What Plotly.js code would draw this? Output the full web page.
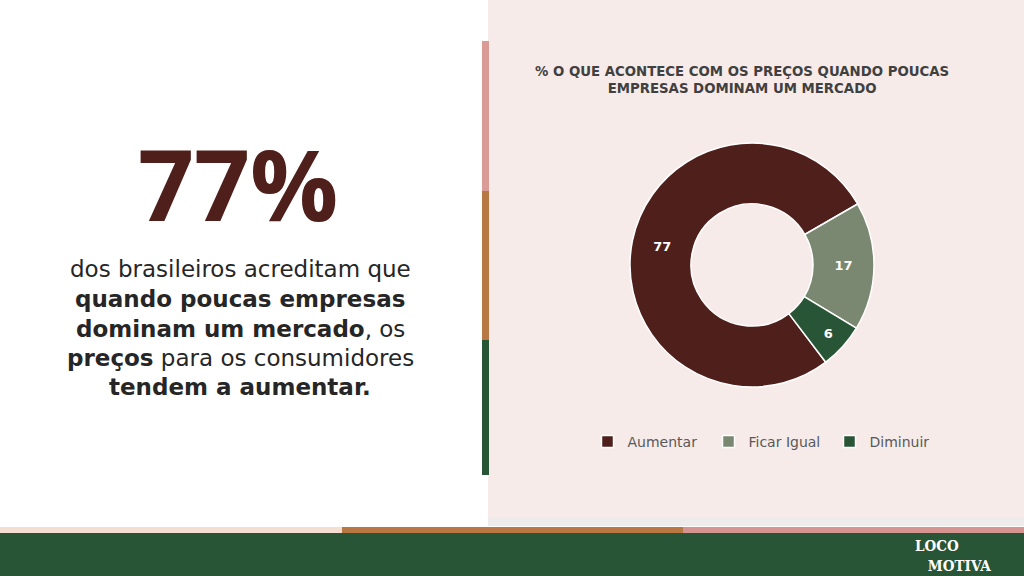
<!DOCTYPE html>
<html>
<head>
<meta charset="utf-8">
<script src="https://cdn.plot.ly/plotly-3.0.1.min.js"></script>
<style>
html,body{margin:0;padding:0;background:#ffffff;}
#chart{width:1024px;height:576px;}
</style>
</head>
<body>
<div id="chart"></div>
<script>
// ---- data ----
const categories = ["Aumentar", "Ficar Igual", "Diminuir"];
const values = [77, 17, 6];
const sliceColors = ["#4F201B", "#7A8871", "#285535"];
const chartTitle = "% O QUE ACONTECE COM OS PREÇOS QUANDO POUCAS<br>EMPRESAS DOMINAM UM MERCADO";
const headline = "77%";
const bodyLines = [
  "dos brasileiros acreditam que",
  "<b>quando poucas empresas</b>",
  "<b>dominam um mercado</b>, os",
  "<b>preços</b> para os consumidores",
  "<b>tendem a aumentar.</b>"
];
const logoText = "<b>LOCO</b><br>&nbsp;&nbsp;&nbsp;<b>MOTIVA</b>";

const W = 1024, H = 576;
const px = x => x / W;
const py = y => 1 - y / H;
function rect(x0, y0, x1, y1, color) {
  return {type: "rect", xref: "paper", yref: "paper", x0: px(x0), x1: px(x1), y0: py(y1), y1: py(y0),
          fillcolor: color, line: {width: 0}, layer: "below"};
}

const shapes = [
  rect(488, 517, 1024, 526, "#EDEBEB"),
  rect(488, 0, 1024, 517, "#F6EBE9"),
  rect(482, 41, 489, 191, "#DA9A96"),
  rect(482, 191, 489, 340, "#B87843"),
  rect(482, 340, 489, 475, "#285535"),
  rect(0, 527, 342, 533, "#F4DDD1"),
  rect(342, 527, 683, 533, "#B87843"),
  rect(683, 527, 1024, 533, "#D69490"),
  rect(0, 533, 1024, 576, "#285535")
];

const annotations = [
  {xref: "paper", yref: "paper", x: px(742), y: py(80), xanchor: "center", yanchor: "middle",
   text: "<b>" + chartTitle + "</b>", showarrow: false, align: "center",
   font: {family: "DejaVu Sans", size: 13.3, color: "#404040"}},
  {xref: "paper", yref: "paper", x: px(238), y: py(183), xanchor: "center", yanchor: "middle",
   text: "<b>" + headline + "</b>", showarrow: false,
   font: {family: "Open Sans", size: 98, color: "#4F201B"}}
];
const lineY = [269, 299, 329, 358, 387];
bodyLines.forEach((t, i) => {
  annotations.push({xref: "paper", yref: "paper", x: px(240), y: py(lineY[i]), xanchor: "center", yanchor: "middle",
    text: t, showarrow: false, align: "center",
    font: {family: "DejaVu Sans", size: 23, color: "#262626"}});
});
annotations.push({xref: "paper", yref: "paper", x: px(913), y: py(556), xanchor: "left", yanchor: "middle",
   text: logoText, showarrow: false, align: "left",
   font: {family: "DejaVu Serif Condensed, DejaVu Serif", size: 15, color: "#ffffff"}});

const trace = {
  type: "pie",
  labels: categories,
  values: values,
  hole: 0.5,
  sort: false,
  direction: "clockwise",
  rotation: 142.8,
  marker: {colors: sliceColors, line: {color: "#ffffff", width: 1.5}},
  textinfo: "value",
  textposition: "inside",
  insidetextorientation: "horizontal",
  textfont: {family: "DejaVu Sans", size: 13, color: "#ffffff", weight: "bold"},
  domain: {x: [px(630), px(874)], y: [py(387), py(143)]},
  hoverinfo: "label+value"
};

const layout = {
  width: W, height: H,
  margin: {l: 0, r: 0, t: 0, b: 0},
  paper_bgcolor: "#ffffff",
  plot_bgcolor: "rgba(0,0,0,0)",
  showlegend: true,
  legend: {
    orientation: "h", x: px(769), xanchor: "center", y: py(442), yanchor: "middle",
    font: {family: "DejaVu Sans", size: 14, color: "#595959"},
    bgcolor: "rgba(0,0,0,0)", traceorder: "normal",
    entrywidth: 76, entrywidthmode: "pixels", itemwidth: 30
  },
  shapes: shapes,
  annotations: annotations
};

Plotly.newPlot("chart", [trace], layout, {displayModeBar: false, staticPlot: true});
</script>
</body>
</html>
